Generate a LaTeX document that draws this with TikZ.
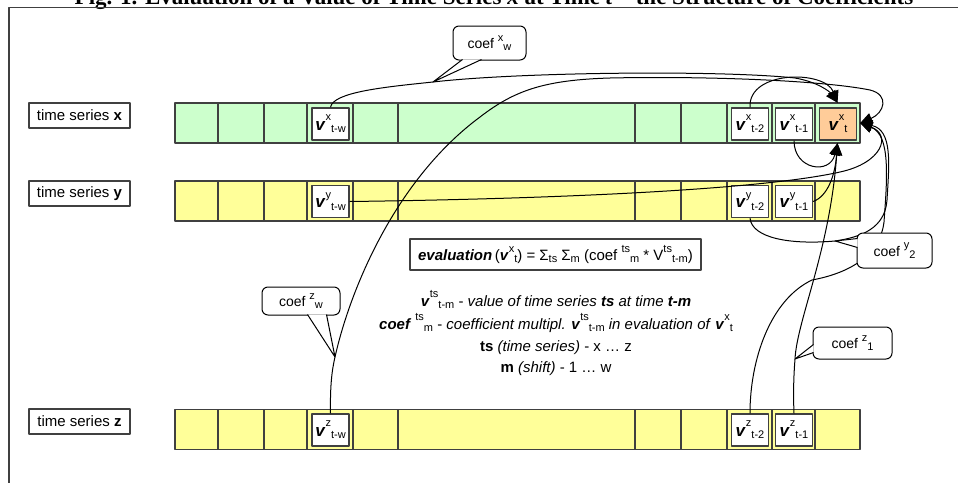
\documentclass[tikz,border=0pt]{standalone}
\usepackage{fontspec}
\setmainfont{Liberation Sans}
\newfontfamily\titlefont{Liberation Serif}
\usetikzlibrary{arrows.meta,calc}

\definecolor{rowgreen}{HTML}{CCFFCC}
\definecolor{rowyellow}{HTML}{FFFF99}
\definecolor{cellorange}{HTML}{FFCC99}
\definecolor{edgegray}{HTML}{404040}

% raised superscript followed by a lowered subscript, side by side
\newcommand\sssize{\fontsize{11}{11}\selectfont}
\newcommand\ssb[2]{\raisebox{0.55em}{\sssize #1}\raisebox{-0.15em}{\sssize #2}}
\newcommand\lo[1]{\raisebox{-0.15em}{\sssize #1}}
\newcommand\bfit[1]{\textbf{\textit{#1}}}

\begin{document}
\begin{tikzpicture}[x=1pt,y=-1pt,line join=round,
  rowbox/.style={draw=edgegray,line width=1.3pt,inner sep=0pt,minimum height=40pt,minimum width=685pt},
  divider/.style={draw=edgegray,line width=1.2pt},
  valbox/.style={draw=edgegray,line width=1.4pt,fill=white,inner sep=0pt,
    minimum width=37pt,minimum height=32pt,font=\fontsize{17}{17}\selectfont},
  labelbox/.style={draw=edgegray,line width=1.2pt,fill=white,inner sep=0pt,
    minimum width=101pt,minimum height=25pt,font=\fontsize{15}{15}\selectfont},
  notebox/.style={draw=black,line width=1pt,fill=white,rounded corners=6pt,inner sep=0pt,
    font=\fontsize{14}{14}\selectfont},
  notewedge/.style={draw=black,line width=1pt,fill=white},
  link/.style={draw=black,line width=1pt},
  headed/.style={-{Triangle[length=12pt,width=11pt]}},
  textline/.style={anchor=base,inner sep=0pt,font=\fontsize{15}{15}\selectfont},
]
\useasboundingbox (0,0) rectangle (958,482);
\clip (0,0) rectangle (958,482);

% title and frame
\node[anchor=base,inner sep=0pt,font=\titlefont\bfseries\fontsize{23}{23}\selectfont] (title) at (494,4.5)
  {Fig. 1. Evaluation of a Value of Time Series \textit{x} at Time \textit{t} – the Structure of Coefficients};
\draw[edgegray,line width=1.2pt] (9,495) -- (9,7.5) -- (970,7.5);

% the three series
\node[rowbox,fill=rowgreen]  (rowx) at (517.5,123) {};
\node[rowbox,fill=rowyellow] (rowy) at (517.5,201) {};
\node[rowbox,fill=rowyellow] (rowz) at (517.5,429.5) {};
\foreach \ya/\yb in {103/143,181/221,409.5/449.5}
  \foreach \d in {218,264,307,353,398,635,681,727,772,815}
    \draw[divider] (\d,\ya) -- (\d,\yb);

% labels
\node[labelbox] (lx) at (79.5,115.5) {time series \textbf{x}};
\node[labelbox] (ly) at (79.5,193.5) {time series \textbf{y}};
\node[labelbox] (lz) at (79.5,421.5) {time series \textbf{z}};

% values
\node[valbox] (vxw) at (330.5,124) {\bfit{v}\ssb{x}{t-w}};
\node[valbox] (vx2) at (750,124) {\bfit{v}\ssb{x}{t-2}};
\node[valbox] (vx1) at (794,124) {\bfit{v}\ssb{x}{t-1}};
\node[valbox,fill=cellorange] (vxt) at (838,124) {\bfit{v}\ssb{x}{t}};
\node[valbox] (vyw) at (330.5,201.5) {\bfit{v}\ssb{y}{t-w}};
\node[valbox] (vy2) at (750,201.5) {\bfit{v}\ssb{y}{t-2}};
\node[valbox] (vy1) at (794,201.5) {\bfit{v}\ssb{y}{t-1}};
\node[valbox] (vzw) at (330.5,430) {\bfit{v}\ssb{z}{t-w}};
\node[valbox] (vz2) at (750,430) {\bfit{v}\ssb{z}{t-2}};
\node[valbox] (vz1) at (794,430) {\bfit{v}\ssb{z}{t-1}};
\node[inner sep=0pt,minimum width=45pt,minimum height=40pt] (cellt) at (837.5,123) {};

% formula and legend
\node[draw=edgegray,line width=1.4pt,minimum width=291pt,minimum height=31pt,inner sep=0pt,
  font=\fontsize{15}{15}\selectfont] (eq) at (555.5,254.5)
  {\bfit{evaluation}\,(\bfit{v}\ssb{x}{t}) = Σ\lo{ts} Σ\lo{m} (coef \ssb{ts}{m} * V\ssb{ts}{t-m})};
\node[textline] (l1) at (556,306) {\bfit{v}\ssb{ts}{t-m} - \textit{value of time series} \bfit{ts} \textit{at time} \bfit{t-m}};
\node[textline] (l2) at (556,329) {\bfit{coef} \ssb{ts}{m} - \textit{coefficient multipl.} \bfit{v}\ssb{ts}{t-m} \textit{in evaluation of} \bfit{v}\ssb{x}{t}};
\node[textline] (l3) at (556,351) {\textbf{ts} \textit{(time series)} - x … z};
\node[textline] (l4) at (556,372) {\textbf{m} \textit{(shift)} - 1 … w};

% points where the notes touch their connectors
\coordinate (cxwtip) at (433,82);
\coordinate (czwtip) at (335,357);
\coordinate (cy2tip) at (835,241);
\coordinate (cz1tip) at (795,359);

% connectors into the evaluated value
\draw[link,headed] (vxw.north) .. controls (333,92) and (385,87) .. (cxwtip)
  .. controls (520,72) and (720,70) .. (795,78) .. controls (818,82) and (830,92) .. (cellt.north);
\draw[link,headed] (vx2.north) .. controls (748,70) and (825,70) .. (cellt.north);
\draw[link,headed] (vx1.south) .. controls (794,170) and (830,175) .. (cellt.south);
\draw[link,headed] (vy1.east) .. controls (828,196) and (835,175) .. (cellt.south);
\draw[link,headed] (vz1.north) .. controls (793,390) and (794,372) .. (cz1tip)
  .. controls (797,320) and (830,250) .. (cellt.south);
\draw[link,headed] (vyw.east) .. controls (550,199) and (760,190) .. (840,172)
  .. controls (882,163) and (892,135) .. (cellt.east);
\draw[link,headed] (vy2.south) .. controls (752,238) and (790,245) .. (cy2tip)
  .. controls (862,237) and (885,228) .. (887,200) .. controls (889,165) and (893,130) .. (cellt.east);
\draw[link,headed] (vz2.north) .. controls (750,360) and (770,300) .. (812,280)
  .. controls (850,273) and (880,255) .. (884,222) .. controls (887,180) and (891,135) .. (cellt.east);
\draw[link,headed] (vzw.north) .. controls (330,385) and (332,370) .. (czwtip)
  .. controls (350,290) and (395,180) .. (480,117) .. controls (515,90) and (545,80) .. (610,78)
  .. controls (700,76) and (820,80) .. (870,90) .. controls (890,95) and (884,113) .. (cellt.east);

% coefficient notes
\node[notebox,minimum width=73pt,minimum height=34pt] (cxw) at (489.5,43) {coef \ssb{x}{w}};
\draw[notewedge] ($(cxw.south west)+(10,-1)$) -- (cxwtip) -- ($(cxw.south west)+(29,-1)$);
\node[notebox,minimum width=78pt,minimum height=28pt] (czw) at (301,301) {coef \ssb{z}{w}};
\draw[notewedge] ($(czw.south west)+(46,-1)$) -- (czwtip) -- ($(czw.south west)+(65,-1)$);
\node[notebox,minimum width=75pt,minimum height=35pt] (cy2) at (894.5,250.5) {coef \ssb{y}{2}};
\draw[notewedge] ($(cy2.north west)+(1,6)$) -- (cy2tip) -- ($(cy2.north west)+(1,15)$);
\node[notebox,minimum width=79pt,minimum height=32pt] (cz1) at (852.5,343) {coef \ssb{z}{1}};
\draw[notewedge] ($(cz1.north west)+(1,18)$) -- (cz1tip) -- ($(cz1.north west)+(1,26)$);
\end{tikzpicture}
\end{document}
